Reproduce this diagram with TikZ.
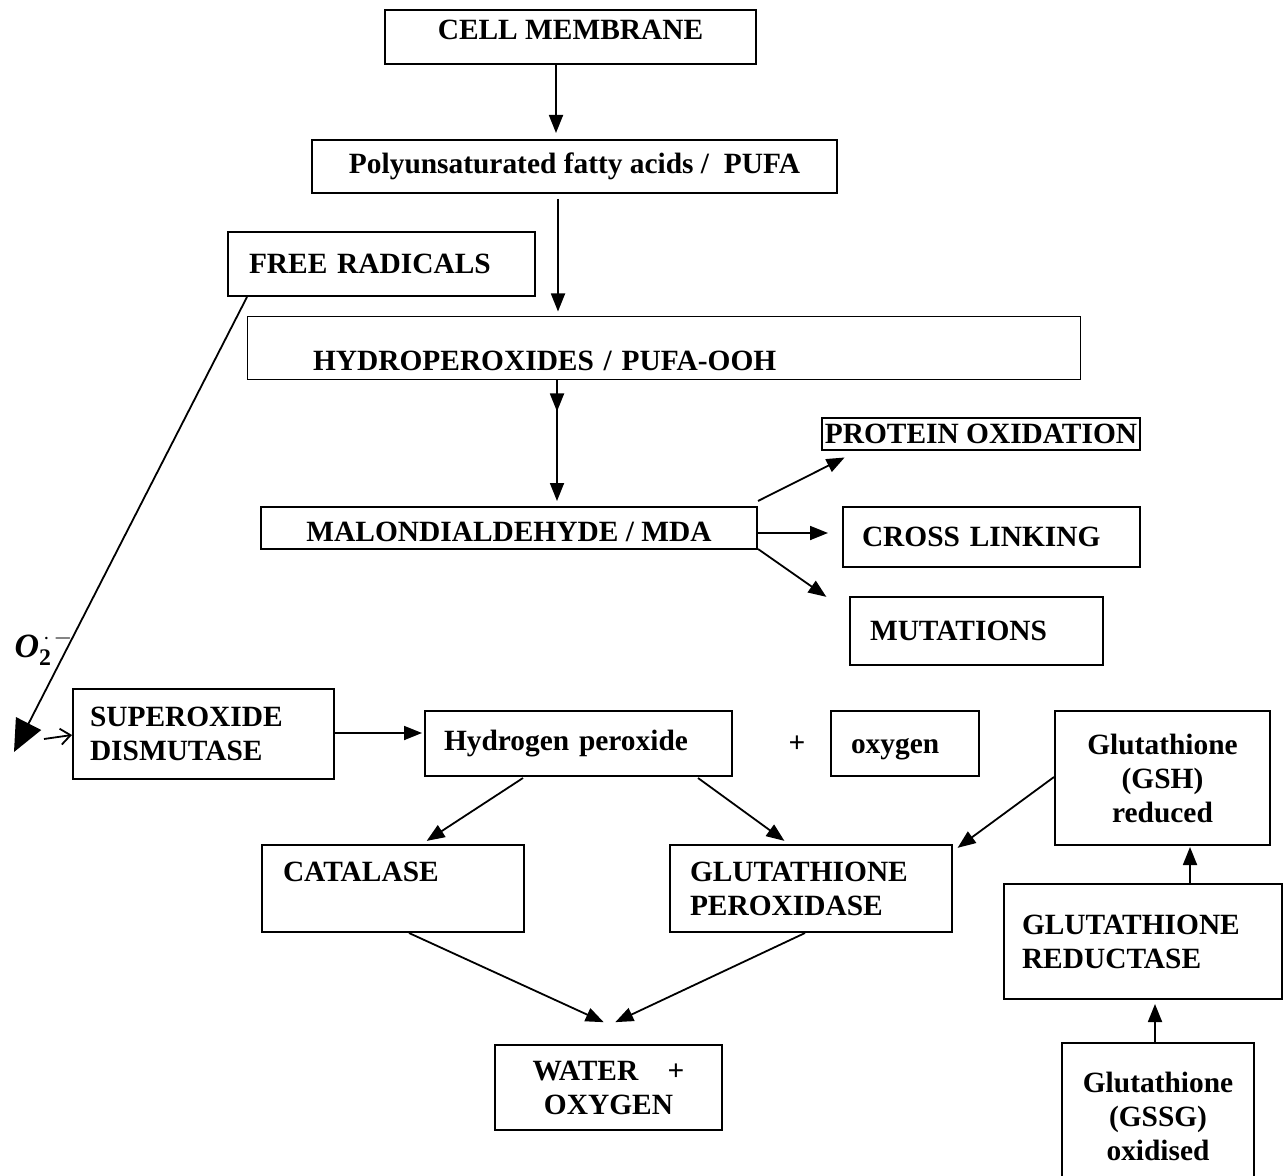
\documentclass[tikz,border=0pt]{standalone}
\usepackage{fontspec}
\setmainfont{Liberation Serif}
\usetikzlibrary{arrows.meta,calc}

\begin{document}
\begin{tikzpicture}[x=0.5pt,y=-0.5pt,
  box/.style={draw,line width=1pt,inner sep=0pt,font=\fontsize{14.7}{17}\selectfont\bfseries},
  lbox/.style={box,align=left},
  cbox/.style={box,align=center},
  arr/.style={line width=0.9pt,-{Triangle[length=9pt,width=7pt]},shorten >=1pt}]
\useasboundingbox (0,0) rectangle (1284,1176);
% lipid peroxidation chain
\node[box,minimum width=185.5pt,minimum height=27pt,text height=9.7pt,text depth=7pt] (cm) at (570.5,37) {CELL MEMBRANE};
\node[box,minimum width=262.5pt,minimum height=26.5pt] (pufa) at (574.5,166.5) {Polyunsaturated fatty acids /~ PUFA};
\node[lbox,minimum width=153.5pt,minimum height=32pt,inner xsep=10.5pt,text width=132.5pt] (fr) at (381.5,264) {FREE RADICALS};
\node[lbox,line width=0.5pt,minimum width=416.5pt,minimum height=31.5pt,inner xsep=33pt,text width=350.5pt,
  text height=21.7pt,text depth=0pt] (hydro) at (663.5,348.5) {HYDROPEROXIDES / PUFA-OOH};
\node[box,minimum width=248pt,minimum height=21pt,text height=13.7pt,text depth=0pt] (mda) at (509,528) {MALONDIALDEHYDE / MDA};
\node[box,line width=0.6pt,minimum width=159pt,minimum height=16pt] (prot) at (981,434) {PROTEIN OXIDATION};
\node[lbox,minimum width=148.5pt,minimum height=30pt,inner xsep=9.5pt,text width=129.5pt] (cross) at (991.5,537) {CROSS LINKING};
\node[lbox,minimum width=126.5pt,minimum height=34pt,inner xsep=10pt,text width=106.5pt] (mut) at (976.5,631) {MUTATIONS};
% antioxidant defence
\node[lbox,minimum width=130.5pt,minimum height=45pt,inner xsep=8.5pt,text width=113.5pt] (sod) at (203.5,734) {SUPEROXIDE\\DISMUTASE};
\node[lbox,minimum width=153.5pt,minimum height=32.5pt,inner xsep=9.5pt,text width=134.5pt] (hp) at (578.5,743.5) {Hydrogen peroxide};
\node[font=\fontsize{14.7}{17}\selectfont\bfseries] (plus) at (797,744) {+};
\node[lbox,minimum width=74pt,minimum height=32.5pt,inner xsep=10pt,text width=54pt,text height=9.7pt,text depth=0pt] (oxy) at (905,743.5) {oxygen};
\node[cbox,minimum width=107.5pt,minimum height=67pt] (gsh) at (1162.5,778) {Glutathione\\(GSH)\\reduced};
\node[lbox,minimum width=131pt,minimum height=43.5pt,inner xsep=10.5pt,text width=110pt] (cat) at (393,888.5) {CATALASE\\\mbox{}};
\node[lbox,minimum width=141pt,minimum height=43.5pt,inner xsep=10pt,text width=121pt] (gpx) at (811,888.5) {GLUTATHIONE\\PEROXIDASE};
\node[lbox,minimum width=139pt,minimum height=57.5pt,inner xsep=9pt,text width=121pt] (gr) at (1143,941.5) {GLUTATHIONE\\REDUCTASE};
\node[cbox,minimum width=113.5pt,minimum height=42.5pt] (water) at (608.5,1087.5) {WATER~~~~+\\OXYGEN};
\node[cbox,minimum width=96pt,minimum height=73.5pt] (gssg) at (1158,1116.5) {Glutathione\\(GSSG)\\oxidised};
\coordinate (tip) at (14,752);
\node[font=\fontsize{17}{19}\selectfont\bfseries\itshape] (o2) at (44,648) {O$_{\mathbf{2}}^{\,\cdot\,-}$};

\draw[arr] ($(cm.south)+(-14.5,0)$) -- ($(pufa.north)+(-18.5,-4)$);
\draw[arr] ($(pufa.south)+(-16.5,5)$) -- ($(hydro.north)+(-105.5,-3)$);
\draw[arr] ($(hydro.south)+(-106.5,0)$) -- ($(hydro.south)+(-106.5,33)$);
\draw[arr] ($(hydro.south)+(-106.5,0)$) -- ($(mda.north)+(48,-3)$);
\draw[arr] ($(mda.north east)+(0,-5)$) -- ($(prot.south west)+(25,6)$);
\draw[arr] ($(mda.east)+(0,5)$) -- ($(cross.west)+(-12,-4)$);
\draw[arr] ($(mda.south east)+(0,-1)$) -- ($(mut.north west)+(-21,2)$);
\draw[line width=0.9pt,-{Triangle[length=16pt,width=14pt]}] ($(fr.south west)+(20,0)$) -- (tip);
\draw[line width=0.9pt,-{Straight Barb[length=5pt,width=8pt]}] ($(tip)+(30,-13)$) -- ($(sod.west)+(0,1)$);
\draw[arr] ($(sod.east)+(0,-1)$) -- ($(sod.east -| hp.west)+(0,-1)$);
\draw[arr] ($(hp.south)+(-55.5,1)$) -- ($(cat.north)+(32,-2)$);
\draw[arr] ($(hp.south)+(119.5,1)$) -- ($(gpx.north)+(-25,-2)$);
\draw[arr] ($(gsh.west)+(0,-1)$) -- ($(gpx.north east)+(3,5)$);
\draw[arr] ($(cat.south)+(16,0)$) -- ($(water.north)+(-3,-21)$);
\draw[arr] ($(gpx.south)+(-6,0)$) -- ($(water.north)+(5,-21)$);
\draw[arr] ($(gr.north)+(47,0)$) -- ($(gsh.south)+(27.5,-1)$);
\draw[arr] ($(gssg.north)+(-3,0)$) -- ($(gr.south)+(12,2)$);
\end{tikzpicture}
\end{document}
